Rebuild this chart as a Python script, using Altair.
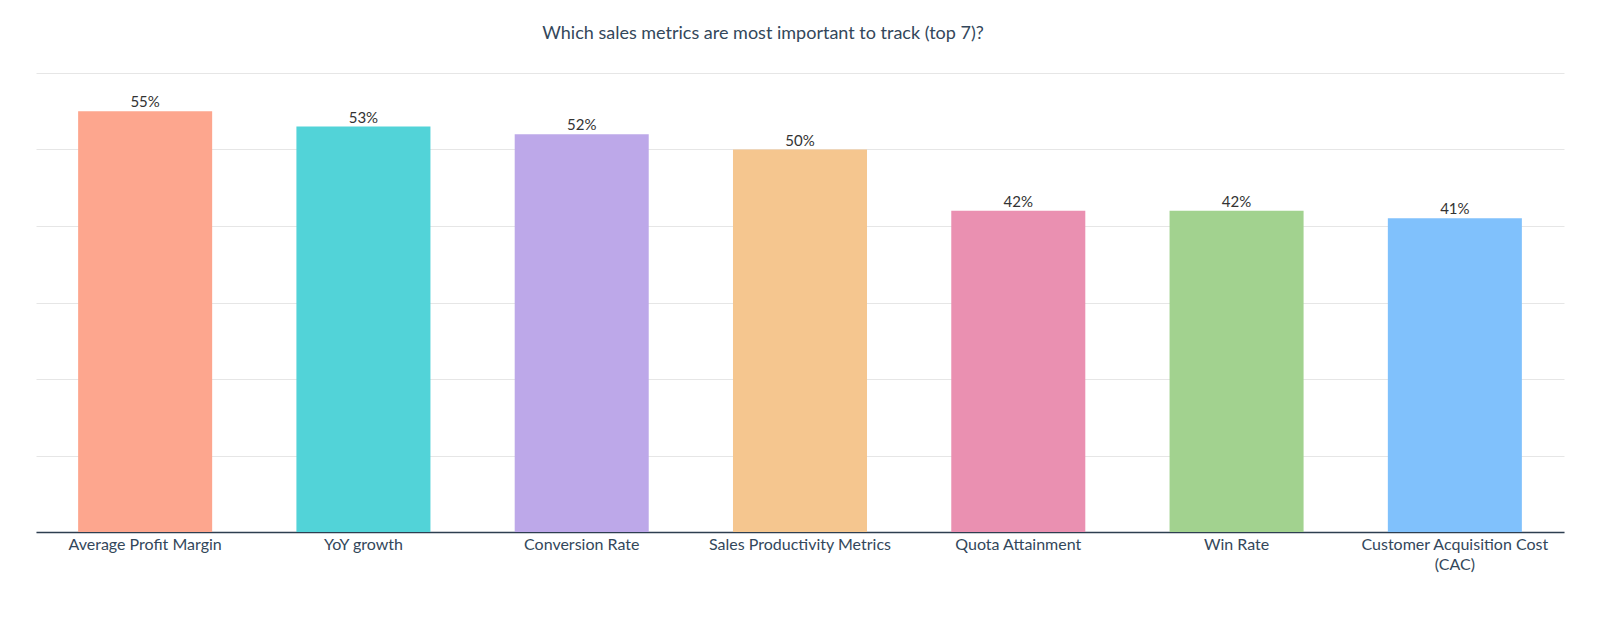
import altair as alt
import pandas as pd

categories = ["Average Profit Margin", "YoY growth", "Conversion Rate",
              "Sales Productivity Metrics", "Quota Attainment", "Win Rate",
              "Customer Acquisition Cost (CAC)"]
values = [55, 53, 52, 50, 42, 42, 41]
colors = ["#FDA68E", "#52D3D8", "#BDA8E9", "#F5C68F", "#EA90B1", "#A2D28F", "#80C1FC"]
y_ticks = [0, 10, 20, 30, 40, 50, 60]

df = pd.DataFrame({"metric": categories, "pct": values,
                   "label": [f"{v}%" for v in values]})

FONT = "Lato"
NAVY = "#33475B"

x_enc = alt.X("metric:N", sort=categories,
              scale=alt.Scale(paddingInner=0.386, paddingOuter=0.193),
              axis=alt.Axis(title=None, labelAngle=0, ticks=False,
                            domainColor="#2D3E50", domainWidth=1.5,
                            labelColor=NAVY, labelFont=FONT, labelFontSize=16,
                            labelPadding=4, labelLineHeight=20, labelLimit=400,
                            labelExpr="datum.label == 'Customer Acquisition Cost (CAC)' ? ['Customer Acquisition Cost', '(CAC)'] : datum.label"))
y_enc = alt.Y("pct:Q", scale=alt.Scale(domain=[0, 60], nice=False),
              axis=alt.Axis(title=None, labels=False, ticks=False, domain=False,
                            values=y_ticks, gridColor="#E6E6E6", gridWidth=1))

bars = alt.Chart(df).mark_bar().encode(
    x=x_enc, y=y_enc,
    color=alt.Color("metric:N", sort=categories,
                    scale=alt.Scale(domain=categories, range=colors), legend=None),
)

labels = alt.Chart(df).mark_text(baseline="alphabetic", dy=-4, font=FONT,
                                 fontSize=15, color="#333333").encode(
    x=alt.X("metric:N", sort=categories), y="pct:Q", text="label:N")

chart = alt.layer(bars, labels).properties(
    width=1528, height=459,
    title=alt.TitleParams("Which sales metrics are most important to track (top 7)?",
                          font=FONT, fontSize=18, fontWeight="normal", color=NAVY,
                          anchor="middle", offset=30, dx=-37),
    autosize=alt.AutoSizeParams(type="none"),
    padding={"left": 28, "top": 65, "right": 28, "bottom": 80},
).configure_view(stroke=None).configure_axis(grid=True).configure_axisX(grid=False)

chart.save("out.html", embed_options={"renderer": "svg", "actions": False})
